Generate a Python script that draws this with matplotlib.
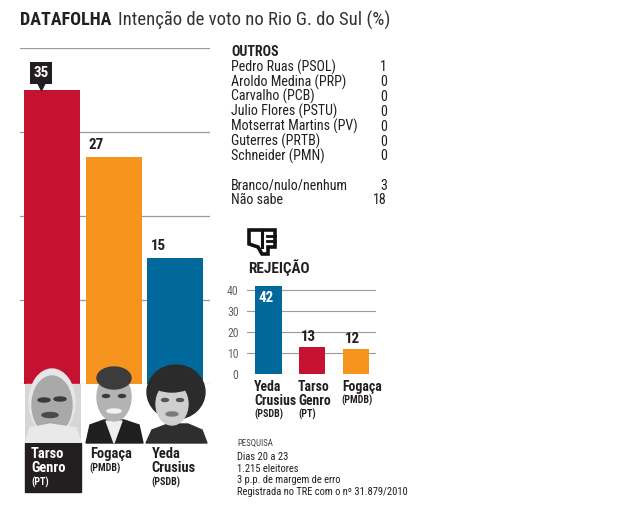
import matplotlib

matplotlib.use("Agg")
import matplotlib.pyplot as plt
from matplotlib import font_manager as fm
from matplotlib.patches import Ellipse, Polygon, Rectangle
from matplotlib.textpath import TextPath
from matplotlib.transforms import offset_copy

# intenção de voto
candidates = ["Tarso\nGenro", "Fogaça", "Yeda\nCrusius"]
parties = ["(PT)", "(PMDB)", "(PSDB)"]
votes = [35, 27, 15]
bar_colors = ["#c41230", "#f7941d", "#00689a"]

# outros
others = ["Pedro Ruas (PSOL)", "Aroldo Medina (PRP)", "Carvalho (PCB)",
          "Julio Flores (PSTU)", "Motserrat Martins (PV)", "Guterres (PRTB)",
          "Schneider (PMN)"]
others_votes = [1, 0, 0, 0, 0, 0, 0]
extra_labels = ["Branco/nulo/nenhum", "Não sabe"]
extra_votes = [3, 18]

# rejeição
rej_names = ["Yeda\nCrusius", "Tarso\nGenro", "Fogaça"]
rej_parties = ["(PSDB)", "(PT)", "(PMDB)"]
rej_values = [42, 13, 12]
rej_colors = ["#00689a", "#c41230", "#f7941d"]

survey = ["Dias 20 a 23", "1.215 eleitores", "3 p.p. de margem de erro",
          "Registrada no TRE com o nº 31.879/2010"]


def pick_font():
    for name in ["Roboto Condensed", "Liberation Sans Narrow", "Open Sans Condensed"]:
        try:
            fm.findfont(fm.FontProperties(family=name), fallback_to_default=False)
            return name, "normal"
        except ValueError:
            pass
    path = fm.findfont(fm.FontProperties(family="DejaVu Sans", stretch="condensed"))
    if "Condensed" in path:
        return "DejaVu Sans", "condensed"
    return "Roboto", "normal"


FAMILY, STRETCH = pick_font()
plt.rcParams["font.family"] = [FAMILY, "DejaVu Sans"]
plt.rcParams["font.stretch"] = STRETCH


def fit_size(text, width_px, weight="normal"):
    prop = fm.FontProperties(family=FAMILY, stretch=STRETCH, weight=weight)
    w = TextPath((0, 0), text, size=10, prop=prop).get_extents().width * 100 / 72
    return 10 * width_px / w


REG = fit_size("Motserrat Martins (PV)", 125)
BOLD = fit_size("Crusius", 41, "bold")
NUM = fit_size("27", 14, "bold")
SMALL = fit_size("Registrada no TRE com o nº 31.879/2010", 170)

W, H = 635, 516
fig = plt.figure(figsize=(W / 100, H / 100), dpi=100)


def box(x0, y0, x1, y1):
    # pixel box (top-left origin) -> figure fraction rect
    return [x0 / W, 1 - y1 / H, (x1 - x0) / W, (y1 - y0) / H]


def ftext(x, y, s, **kw):
    kw.setdefault("va", "center")
    fig.text(x / W, 1 - y / H, s, **kw)


def shifted(ax, dx, dy):
    return offset_copy(ax.transData, fig=fig, x=dx, y=-dy, units="dots")


# title
ftext(20, 20, "DATAFOLHA", fontsize=fit_size("DATAFOLHA", 90, "heavy"), fontweight="heavy",
      color="#231f20")
ftext(118, 20, "Intenção de voto no Rio G. do Sul (%)",
      fontsize=fit_size("Intenção de voto no Rio G. do Sul (%)", 270), color="#333333")

# main bar chart
ax = fig.add_axes(box(20, 48, 210, 384))
ax.set_xlim(-0.518, 2.559)
ax.set_ylim(0, 40)
ax.axis("off")
for g in [0, 10, 20, 30, 40]:
    ax.axhline(g, color="#9a9a9a", lw=0.9, zorder=0)
x = list(range(len(votes)))
bw = 0.907
ax.bar(x, votes, width=bw, color=bar_colors, zorder=2)
for i, v in enumerate(votes):
    left = i - bw / 2
    if i == 0:
        bx = left + 17 / 61.75
        ax.text(bx, v, str(v), transform=shifted(ax, 0, -17), ha="center", va="center",
                color="white", fontsize=NUM, fontweight="bold", zorder=5,
                bbox=dict(boxstyle="square,pad=0.25", fc="#231f20", ec="none"))
        ax.plot(bx, v, marker="v", ms=8, color="#231f20", transform=shifted(ax, 0, -6),
                zorder=5, clip_on=False)
    else:
        ax.text(left, v, str(v), transform=shifted(ax, 3, -5), ha="left", va="bottom",
                color="#231f20", fontsize=NUM, fontweight="bold")

# photo placeholders (pixel overlay)
ov = fig.add_axes([0, 0, 1, 1], zorder=3)
ov.set_xlim(0, W)
ov.set_ylim(H, 0)
ov.axis("off")
ov.add_patch(Rectangle((25, 443), 56, 49, color="#231f20"))

# Tarso
clip = Rectangle((25, 360), 56, 83, transform=ov.transData)
parts = [Rectangle((25, 384), 56, 59, color="#d6d6d6"),
         Ellipse((52, 402), 46, 66, color="#e6e6e6"),
         Ellipse((52, 405), 40, 58, color="#a9a9a9"),
         Polygon([(25, 443), (30, 428), (50, 424), (76, 428), (81, 443)], color="#e9e9e9"),
         Ellipse((44, 400), 12, 4, color="#3a3a3a"),
         Ellipse((60, 399), 12, 4, color="#3a3a3a"),
         Ellipse((50, 415), 16, 5, color="#4a4a4a")]
for p in parts:
    ov.add_patch(p)
    p.set_clip_path(clip)

# Fogaça
parts = [Polygon([(86, 443), (90, 425), (104, 420), (124, 420), (139, 425), (143, 443)],
                 color="#1f1f1f"),
         Polygon([(106, 421), (114, 443), (122, 421)], color="#eeeeee"),
         Ellipse((114, 397), 34, 48, color="#b3b3b3"),
         Ellipse((114, 378), 34, 22, color="#3c3c3c"),
         Ellipse((106, 396), 7, 3, color="#3a3a3a"),
         Ellipse((122, 396), 7, 3, color="#3a3a3a"),
         Ellipse((114, 411), 14, 4, color="#f2f2f2")]
for p in parts:
    ov.add_patch(p)

# Yeda
parts = [Ellipse((176, 392), 58, 54, color="#2b2b2b"),
         Polygon([(146, 443), (152, 430), (168, 424), (188, 424), (202, 430), (207, 443)],
                 color="#2e2e2e"),
         Ellipse((172, 404), 32, 42, color="#cfcfcf"),
         Ellipse((172, 384), 38, 16, color="#2b2b2b"),
         Ellipse((165, 400), 7, 3, color="#555555"),
         Ellipse((180, 400), 7, 3, color="#555555"),
         Ellipse((172, 414), 12, 4, color="#7a7a7a")]
for p in parts:
    ov.add_patch(p)

# candidate names, drawn at figure level so they sit over the overlay
for i, (name, party) in enumerate(zip(candidates, parties)):
    left = i - bw / 2
    col = "white" if i == 0 else "#231f20"
    dx = 7 if i == 0 else 4
    fig.text(left, 0, name, transform=shifted(ax, dx, 63), ha="left", va="top",
             fontsize=BOLD * 1.05, fontweight="bold", color=col, linespacing=1.0, zorder=6)
    nl = name.count("\n") + 1
    fig.text(left, 0, party, transform=shifted(ax, dx, 64 + 14.5 * nl), ha="left",
             va="top", fontsize=BOLD * 0.72, fontweight="bold", color=col, zorder=6)

# outros table
ftext(231, 52, "OUTROS", fontsize=REG, fontweight="bold", color="#231f20")
for k, (lab, v) in enumerate(zip(others, others_votes)):
    y = 67 + 14.9 * k
    ftext(231, y, lab, fontsize=REG, color="#231f20")
    ftext(387, y, str(v), fontsize=REG, color="#231f20", ha="right")
for k, (lab, v) in enumerate(zip(extra_labels, extra_votes)):
    y = 186 + 14.5 * k
    ftext(231, y, lab, fontsize=REG, color="#231f20")
    ftext(387, y, str(v), fontsize=REG, color="#231f20", ha="right")

# thumbs-down icon
ov.add_patch(Polygon([(249, 230), (262, 230), (275, 230), (275, 247), (268, 247),
                      (268, 254), (262, 254), (258, 247), (249, 244)],
                     closed=True, fc="white", ec="#111111", lw=2.6, joinstyle="miter"))
for yy in (236, 241):
    ov.plot([267, 275], [yy, yy], color="#111111", lw=2)
ov.plot([262, 262], [230, 247], color="#111111", lw=2.2)
ftext(248, 268, "REJEIÇÃO", fontsize=fit_size("REJEIÇÃO", 60, "bold"), fontweight="bold",
      color="#231f20")

# rejeição chart
rx = fig.add_axes(box(247, 285.8, 376, 374))
rx.set_xlim(-0.491, 2.457)
rx.set_ylim(0, 42)
for s in rx.spines.values():
    s.set_visible(False)
rx.set_xticks([])
rx.set_yticks([0, 10, 20, 30, 40])
rx.tick_params(axis="y", length=0, pad=6, labelsize=REG * 0.85, labelcolor="#666666")
for g in [0, 10, 20, 30, 40]:
    rx.axhline(g, color="#9a9a9a", lw=0.8, zorder=0)
rw = 0.6
rxs = list(range(len(rej_values)))
rx.bar(rxs, rej_values, width=rw, color=rej_colors, zorder=2)
for i, v in enumerate(rej_values):
    left = i - rw / 2
    if v > 30:
        rx.text(left, v, str(v), transform=shifted(rx, 3, 12), ha="left", va="center",
                color="white", fontsize=NUM, fontweight="bold", zorder=4)
    else:
        rx.text(left, v, str(v), transform=shifted(rx, 2, -3), ha="left", va="bottom",
                color="#231f20", fontsize=NUM, fontweight="bold")
    nl = rej_names[i].count("\n") + 1
    rx.text(left, 0, rej_names[i], transform=shifted(rx, -1, 6), ha="left", va="top",
            fontsize=BOLD, fontweight="bold", color="#231f20", linespacing=1.0,
            clip_on=False)
    rx.text(left, 0, rej_parties[i], transform=shifted(rx, -1, 7 + 14 * nl), ha="left",
            va="top", fontsize=BOLD * 0.72, fontweight="bold", color="#231f20",
            clip_on=False)

# pesquisa
ftext(237, 443, "PESQUISA", fontsize=SMALL * 0.85, color="#444444")
for k, line in enumerate(survey):
    ftext(237, 457 + 11.7 * k, line, fontsize=SMALL, color="#231f20")

fig.savefig("out.png", dpi=100)
